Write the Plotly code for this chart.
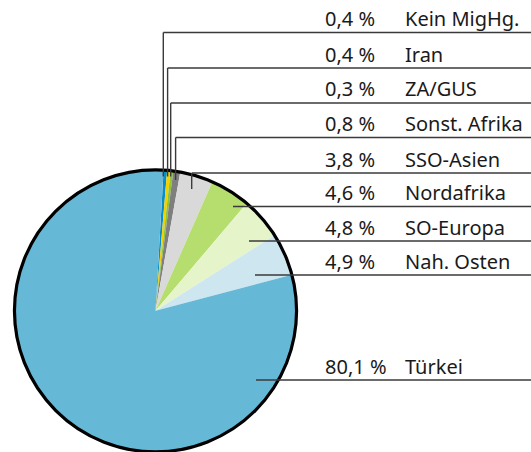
import plotly.graph_objects as go

# ---- data ----
categories = ["Kein MigHg.", "Iran", "ZA/GUS", "Sonst. Afrika", "SSO-Asien",
              "Nordafrika", "SO-Europa", "Nah. Osten", "Türkei"]
shares = [0.4, 0.4, 0.3, 0.8, 3.8, 4.6, 4.8, 4.9, 80.1]
share_labels = ["0,4 %", "0,4 %", "0,3 %", "0,8 %", "3,8 %",
                "4,6 %", "4,8 %", "4,9 %", "80,1 %"]
colors = ["#0a8cc6", "#f3d000", "#8cc43c", "#7f7f7f", "#d9d9d9",
          "#b5de6e", "#e6f4ca", "#cde6f0", "#66b8d7"]

# ---- layout (pixels) ----
W, H = 531, 452
cx, cy, R = 155.5, 310.8, 141.0
row_y = [32.5, 68, 103, 137.5, 173, 206.5, 241, 275, 380]
# leader anchor points inside the slices (x, y); None = purely horizontal leader
anchor = [(163.3, 176.5), (167.6, 176.5), (170.7, 176.5), (175.6, 180.0), (191.7, 189.0),
          (233.0, None), (249.0, None), (255.0, None), (256.0, None)]
pct_x = 323.0
name_x = 402.5
FONT = dict(family="Noto Sans", size=20, color="#1a1a1a")

def px(x):
    return x / W

def py(y):
    return 1 - y / H

dom_x = [px(cx - R), px(cx + R)]
dom_y = [max(0.0, py(cy + R)), py(cy - R)]

fig = go.Figure()
fig.add_trace(go.Pie(
    labels=categories, values=shares, sort=False, direction="clockwise",
    rotation=3.3, marker=dict(colors=colors, line=dict(width=0)),
    textinfo="none", hoverinfo="label+percent", showlegend=False,
    domain=dict(x=dom_x, y=dom_y)))
# outer outline
fig.add_trace(go.Pie(
    labels=["outline"], values=[1], sort=False,
    marker=dict(colors=["rgba(0,0,0,0)"], line=dict(width=3.2, color="#000000")),
    textinfo="none", hoverinfo="skip", showlegend=False,
    domain=dict(x=dom_x, y=dom_y)))

shapes = []
annotations = []
lc = dict(color="#3a3a3a", width=1.4)
for i, cat in enumerate(categories):
    yl = row_y[i]
    ax, ay = anchor[i]
    if ay is not None:
        shapes.append(dict(type="line", xref="paper", yref="paper",
                           x0=px(ax), x1=px(ax), y0=py(ay), y1=py(yl), line=lc))
    shapes.append(dict(type="line", xref="paper", yref="paper",
                       x0=px(ax), x1=1.0, y0=py(yl), y1=py(yl), line=lc))
    annotations.append(dict(xref="paper", yref="paper", x=px(pct_x), y=py(yl + 1.5),
                            text=share_labels[i], showarrow=False,
                            xanchor="left", yanchor="bottom", font=FONT))
    annotations.append(dict(xref="paper", yref="paper", x=px(name_x), y=py(yl + 1.5),
                            text=cat, showarrow=False,
                            xanchor="left", yanchor="bottom", font=FONT))

fig.update_layout(width=W, height=H, margin=dict(l=0, r=0, t=0, b=0),
                  paper_bgcolor="white", plot_bgcolor="white",
                  shapes=shapes, annotations=annotations)
fig.write_html("out.html", config={"displayModeBar": False},
               post_script="document.body.style.margin='0';")
